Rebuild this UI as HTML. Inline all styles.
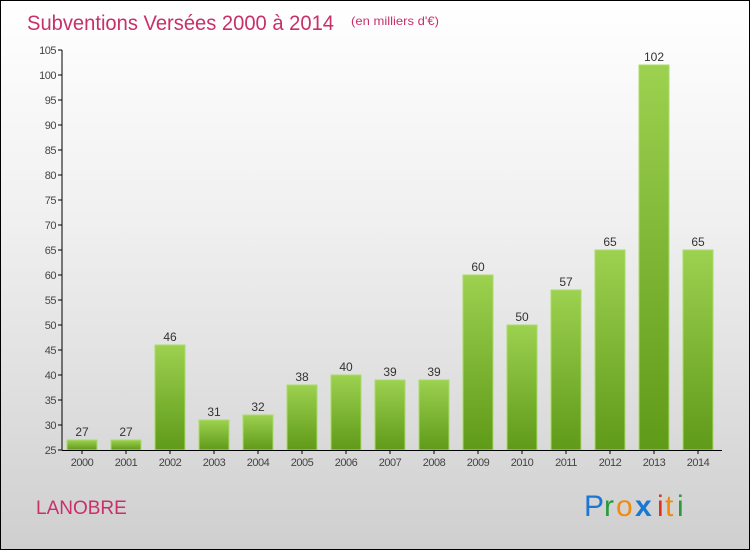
<!DOCTYPE html>
<html><head><meta charset="utf-8"><style>
body{margin:0}
#c{position:relative;width:748px;height:548px;border:1px solid #000;background:linear-gradient(#ffffff,#f0f0f0 40%,#cfcfcf);font-family:"Liberation Sans",sans-serif;overflow:hidden}
</style></head><body>
<div id="c">
<svg width="748" height="548">
<defs><linearGradient id="g" x1="0" y1="0" x2="0" y2="1"><stop offset="0" stop-color="#9dd150"/><stop offset="1" stop-color="#5f9a18"/></linearGradient></defs>
<text x="26" y="29" font-size="21" fill="#c8306a" textLength="307" lengthAdjust="spacingAndGlyphs">Subventions Versées 2000 à 2014</text>
<text x="350" y="24" font-size="12" fill="#c8306a" textLength="88" lengthAdjust="spacingAndGlyphs">(en milliers d'€)</text>
<text x="35" y="513" font-size="19" fill="#c8306a">LANOBRE</text>
<g font-size="30"><text x="583" y="515" fill="#1b77d2">P</text><text x="603" y="515" fill="#2a9a3a">r</text><text x="615" y="515" fill="#f08a10">o</text><text x="634" y="515" fill="#1b77d2" font-weight="bold">x</text><text x="656" y="515" fill="#e03020">i</text><text x="664" y="515" fill="#f08a10">t</text><text x="676" y="515" fill="#2a9a3a">i</text></g>
<g id="plot"></g>
</svg></div>
<script>
const years=["2000","2001","2002","2003","2004","2005","2006","2007","2008","2009","2010","2011","2012","2013","2014"];
const values=[27,27,46,31,32,38,40,39,39,60,50,57,65,102,65];
const ticks=[25,30,35,40,45,50,55,60,65,70,75,80,85,90,95,100,105];
const ns="http://www.w3.org/2000/svg";
const g=document.getElementById('plot');
const y=v=>449-(v-25)*5;
const x=i=>81+i*44;
function mk(t,a,txt){const e=document.createElementNS(ns,t);for(const k in a)e.setAttribute(k,a[k]);if(txt!==undefined)e.textContent=txt;g.appendChild(e);return e;}
ticks.forEach(t=>{
 const l=mk('line',{x1:57,x2:61,y1:y(t),y2:y(t),stroke:'#000'});
 
 
 const tx=mk('text',{x:55,y:y(t)+4,'font-size':11,fill:'#444','text-anchor':'end','letter-spacing':'-0.5'},t);
 
 
});
values.forEach((v,i)=>{
 const r=mk('rect',{x:x(i)-15,y:y(v),width:30,height:y(25)-y(v),fill:'url(#g)',stroke:'#a8dc68','stroke-width':1});
 
 
 const lb=mk('text',{x:x(i),y:y(v)-4,'font-size':12,fill:'#333','text-anchor':'middle'},v);
 
 
 const xt=mk('line',{x1:x(i),x2:x(i),y1:449,y2:453,stroke:'#000'});
 
 
 const xl=mk('text',{x:x(i),y:465,'font-size':11,fill:'#444','text-anchor':'middle','letter-spacing':'-0.5'},years[i]);
 
 
});
const ya=mk('line',{x1:61,x2:61,y1:y(105),y2:449.5,stroke:'#000'});


const xa=mk('line',{x1:61,x2:721,y1:449.5,y2:449.5,stroke:'#000'});


</script>
</body></html>
